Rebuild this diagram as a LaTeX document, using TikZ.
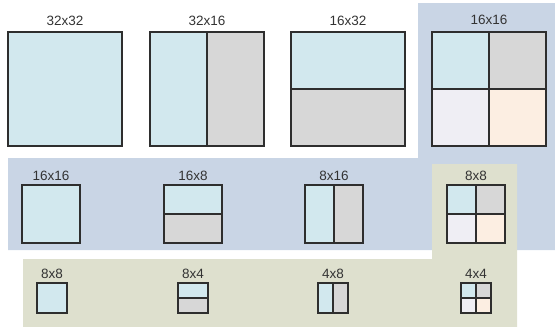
\documentclass[tikz,border=0pt]{standalone}
\usepackage{fontspec}
\setmainfont{Liberation Sans}
\usepackage{xcolor}
\usepackage{tikz}
\usetikzlibrary{positioning}
\definecolor{LevelBlue}{HTML}{C9D5E5}
\definecolor{LevelGreen}{HTML}{DEE0CE}
\definecolor{CellBlue}{HTML}{D2E8EE}
\definecolor{CellGray}{HTML}{D7D7D7}
\definecolor{CellLilac}{HTML}{EFEEF4}
\definecolor{CellPeach}{HTML}{FCEEE2}
\definecolor{EdgeGray}{HTML}{2E2E2E}
\definecolor{TextGray}{HTML}{333333}
\tikzset{
    part/.style={
        shape=rectangle,
        draw=EdgeGray,
        line width=1.2pt,
        fill=#1,
        inner sep=0pt,
        outer sep=0pt
    },
    sq/.style={minimum width=#1, minimum height=#1},
    tall/.style={minimum width=#1/2, minimum height=#1},
    wide/.style={minimum width=#1, minimum height=#1/2},
    quarter/.style={minimum width=#1/2, minimum height=#1/2},
    sizelabel/.style={font=\fontsize{13.5}{15}\selectfont, text=TextGray, inner sep=0pt}
}

\begin{document}
\begin{tikzpicture}[x=1pt, y=-1pt]

\useasboundingbox (0,0) rectangle (555,327);

% Levels
\fill[LevelBlue] (8,158) -- (418,158) -- (418,3) -- (555,3) -- (555,250) -- (8,250) -- cycle;
\fill[LevelGreen] (23,259) -- (432,259) -- (432,164) -- (517,164) -- (517,327) -- (23,327) -- cycle;

% 32x32
\node[part=CellBlue, sq=114, anchor=north west] (t1) at (8,32) {};
\node[sizelabel, above=6pt of t1.north] {32x32};

% 32x16
\node[part=CellBlue, tall=114, anchor=north west] (t2a) at (150,32) {};
\node[part=CellGray, tall=114, right=0pt of t2a] (t2b) {};
\node[sizelabel, above=6pt of t2a.north east] {32x16};

% 16x32
\node[part=CellBlue, wide=114, anchor=north west] (t3a) at (291,32) {};
\node[part=CellGray, wide=114, below=0pt of t3a] (t3b) {};
\node[sizelabel, above=6pt of t3a.north] {16x32};

% 16x16
\node[part=CellBlue, quarter=114, anchor=north west] (t4a) at (432,32) {};
\node[part=CellGray, quarter=114, right=0pt of t4a] (t4b) {};
\node[part=CellLilac, quarter=114, below=0pt of t4a] (t4c) {};
\node[part=CellPeach, quarter=114, right=0pt of t4c] (t4d) {};
\node[sizelabel, above=7pt of t4a.north east] {16x16};

% 16x16
\node[part=CellBlue, sq=58, anchor=north west] (m1) at (22,185) {};
\node[sizelabel, above=4.5pt of m1.north] {16x16};

% 16x8
\node[part=CellBlue, wide=58, anchor=north west] (m2a) at (164,185) {};
\node[part=CellGray, wide=58, below=0pt of m2a] (m2b) {};
\node[sizelabel, above=4.5pt of m2a.north] {16x8};

% 8x16
\node[part=CellBlue, tall=58, anchor=north west] (m3a) at (305,185) {};
\node[part=CellGray, tall=58, right=0pt of m3a] (m3b) {};
\node[sizelabel, above=4.5pt of m3a.north east] {8x16};

% 8x8
\node[part=CellBlue, quarter=58, anchor=north west] (m4a) at (447,185) {};
\node[part=CellGray, quarter=58, right=0pt of m4a] (m4b) {};
\node[part=CellLilac, quarter=58, below=0pt of m4a] (m4c) {};
\node[part=CellPeach, quarter=58, right=0pt of m4c] (m4d) {};
\node[sizelabel, above=4.5pt of m4a.north east] {8x8};

% 8x8
\node[part=CellBlue, sq=30, anchor=north west] (b1) at (37,283) {};
\node[sizelabel, above=4.5pt of b1.north] {8x8};

% 8x4
\node[part=CellBlue, wide=30, anchor=north west] (b2a) at (178,283) {};
\node[part=CellGray, wide=30, below=0pt of b2a] (b2b) {};
\node[sizelabel, above=4.5pt of b2a.north] {8x4};

% 4x8
\node[part=CellBlue, tall=30, anchor=north west] (b3a) at (318,283) {};
\node[part=CellGray, tall=30, right=0pt of b3a] (b3b) {};
\node[sizelabel, above=4.5pt of b3a.north east] {4x8};

% 4x4
\node[part=CellBlue, quarter=30, anchor=north west] (b4a) at (461,283) {};
\node[part=CellGray, quarter=30, right=0pt of b4a] (b4b) {};
\node[part=CellLilac, quarter=30, below=0pt of b4a] (b4c) {};
\node[part=CellPeach, quarter=30, right=0pt of b4c] (b4d) {};
\node[sizelabel, above=4.5pt of b4a.north east] {4x4};

\end{tikzpicture}
\end{document}
